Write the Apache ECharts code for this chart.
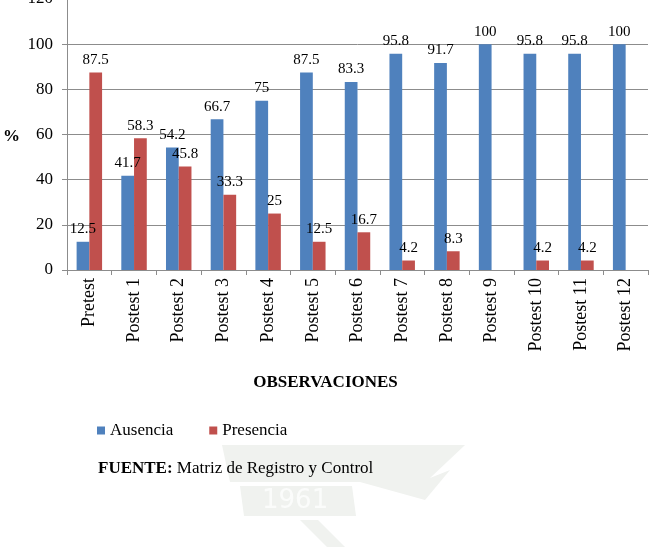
<!DOCTYPE html>
<html>
<head>
<meta charset="utf-8">
<script src="https://cdn.jsdelivr.net/npm/echarts@6/dist/echarts.min.js"></script>
<style>
html,body{margin:0;padding:0;background:#fff;}
#chart{width:651px;height:547px;}
</style>
</head>
<body>
<div id="chart"></div>
<script>
var categories = ['Pretest','Postest 1','Postest 2','Postest 3','Postest 4','Postest 5','Postest 6','Postest 7','Postest 8','Postest 9','Postest 10','Postest 11','Postest 12'];
var ausencia = [12.5, 41.7, 54.2, 66.7, 75, 87.5, 83.3, 95.8, 91.7, 100, 95.8, 95.8, 100];
var presencia = [87.5, 58.3, 45.8, 33.3, 25, 12.5, 16.7, 4.2, 8.3, null, 4.2, 4.2, null];
var yTicks = {min: 0, max: 120, interval: 20};

var FONT = '"Liberation Serif", "Times New Roman", serif';
var WM = '#f0f2ef';
var chart = echarts.init(document.getElementById('chart'), null, {renderer: 'canvas'});
var labelStyle = {show: true, position: 'top', distance: 5, color: '#000', fontFamily: FONT, fontSize: 15,
  formatter: function (p) { return p.value == null ? '' : String(p.value); }};
chart.setOption({
  animation: false,
  backgroundColor: '#fff',
  textStyle: {fontFamily: FONT},
  grid: {left: 67, right: 3, top: -1, bottom: 277, containLabel: false, outerBoundsMode: 'none'},
  legend: {
    left: 92, top: 417, itemWidth: 8, itemHeight: 8, itemGap: 36,
    icon: 'rect',
    textStyle: {fontFamily: FONT, fontSize: 17, color: '#000'},
    data: ['Ausencia', 'Presencia']
  },
  xAxis: {
    type: 'category',
    data: categories,
    axisLine: {lineStyle: {color: '#8c8c8c'}},
    axisTick: {show: true, length: 5, lineStyle: {color: '#8c8c8c'}},
    axisLabel: {rotate: 90, margin: 8, color: '#000', fontFamily: FONT, fontSize: 18}
  },
  yAxis: {
    type: 'value',
    min: yTicks.min, max: yTicks.max, interval: yTicks.interval,
    axisLine: {show: true, lineStyle: {color: '#8c8c8c'}},
    axisTick: {show: true, length: 5, lineStyle: {color: '#8c8c8c'}},
    splitLine: {lineStyle: {color: '#8c8c8c'}},
    axisLabel: {margin: 14, color: '#000', fontFamily: FONT, fontSize: 17}
  },
  series: [
    {name: 'Ausencia', type: 'bar', data: ausencia, itemStyle: {color: '#4F81BD'},
     barGap: '0%', barCategoryGap: '43%', label: labelStyle},
    {name: 'Presencia', type: 'bar', data: presencia, itemStyle: {color: '#C0504D'},
     barGap: '0%', barCategoryGap: '43%', label: labelStyle}
  ],
  graphic: [
    {type: 'polygon', silent: true, z: -10,
     shape: {points: [[222,445],[465,445],[430,478],[450,470],[425,500],[360,482],[230,482]]},
     style: {fill: WM}},
    {type: 'polygon', silent: true, z: -10,
     shape: {points: [[240,486],[352,486],[356,516],[244,516]]},
     style: {fill: WM}},
    {type: 'polygon', silent: true, z: -10,
     shape: {points: [[300,520],[318,520],[345,547],[327,547]]},
     style: {fill: WM}},
    {type: 'text', left: 262, top: 488, silent: true, z: -9,
     style: {text: '1961', fill: '#fbfcfb', font: '26px "DejaVu Sans", sans-serif'}},
    {type: 'text', left: 3, top: 128, style: {text: '%', fill: '#000', font: 'bold 17px ' + FONT}},
    {type: 'text', left: 'center', top: 374, style: {text: 'OBSERVACIONES', fill: '#000', font: 'bold 17px ' + FONT}},
    {type: 'text', left: 98, top: 460, style: {
      text: '{b|FUENTE:} Matriz de Registro y Control',
      rich: {b: {fontWeight: 'bold', fontSize: 17, fontFamily: FONT, fill: '#000'}},
      fill: '#000', font: '17px ' + FONT}}
  ]
});
</script>
</body>
</html>
